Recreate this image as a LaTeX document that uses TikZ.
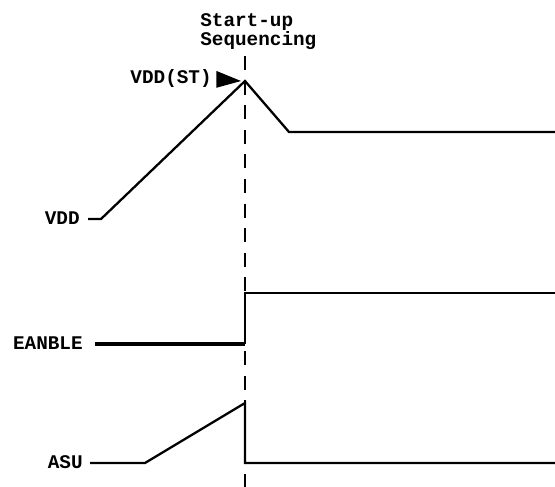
\documentclass[tikz,border=0pt]{standalone}
\usepackage{fontspec}
\setmonofont{Liberation Mono}
\tikzset{
  lbl/.style={font=\ttfamily\bfseries\fontsize{11}{11}\selectfont, inner sep=0pt},
  wave/.style={line width=1.3pt},
}
\begin{document}
\begin{tikzpicture}[x=0.02cm,y=-0.02cm]
    \useasboundingbox (0,0) rectangle (555,487);
    % time mark
    \draw[line width=1pt,dash pattern=on 8pt off 6pt] (245,56) -- (245,487);
    \node[lbl,anchor=north west,align=left] (title) at (200,13) {Start-up\\Sequencing};
    % VDD
    \node[lbl,anchor=east] (vdd) at (80,218) {VDD};
    \coordinate (vddA) at (88,219);
    \coordinate (vddB) at (101,219);
    \coordinate (peak) at (245,81);
    \coordinate (vddC) at (289,132);
    \coordinate (vddD) at (555,132);
    \draw[wave] (vddA) -- (vddB) -- (peak) -- (vddC) -- (vddD);
    \node[lbl,anchor=east] (vddst) at (212,79) {VDD(ST)};
    \coordinate (tipst) at (241,81);
    \fill ([xshift=2.5pt,yshift=4.6pt]vddst.east) -- (tipst) -- ([xshift=2.5pt,yshift=-5pt]vddst.east) -- cycle;
    % EANBLE
    \node[lbl,anchor=east] (en) at (83,343) {EANBLE};
    \coordinate (enA) at (95,344);
    \coordinate (enB) at (245,344);
    \coordinate (enC) at (245,293);
    \coordinate (enD) at (555,293);
    \draw[line width=1.9pt] (enA) -- (enB);
    \draw[wave] (enB) -- (enC) -- (enD);
    % ASU
    \node[lbl,anchor=east] (asu) at (83,462) {ASU};
    \coordinate (asuA) at (90,463);
    \coordinate (asuB) at (145,463);
    \coordinate (asuC) at (245,403);
    \coordinate (asuD) at (245,463);
    \coordinate (asuE) at (555,463);
    \draw[wave] (asuA) -- (asuB) -- (asuC) -- (asuD) -- (asuE);
\end{tikzpicture}
\end{document}
